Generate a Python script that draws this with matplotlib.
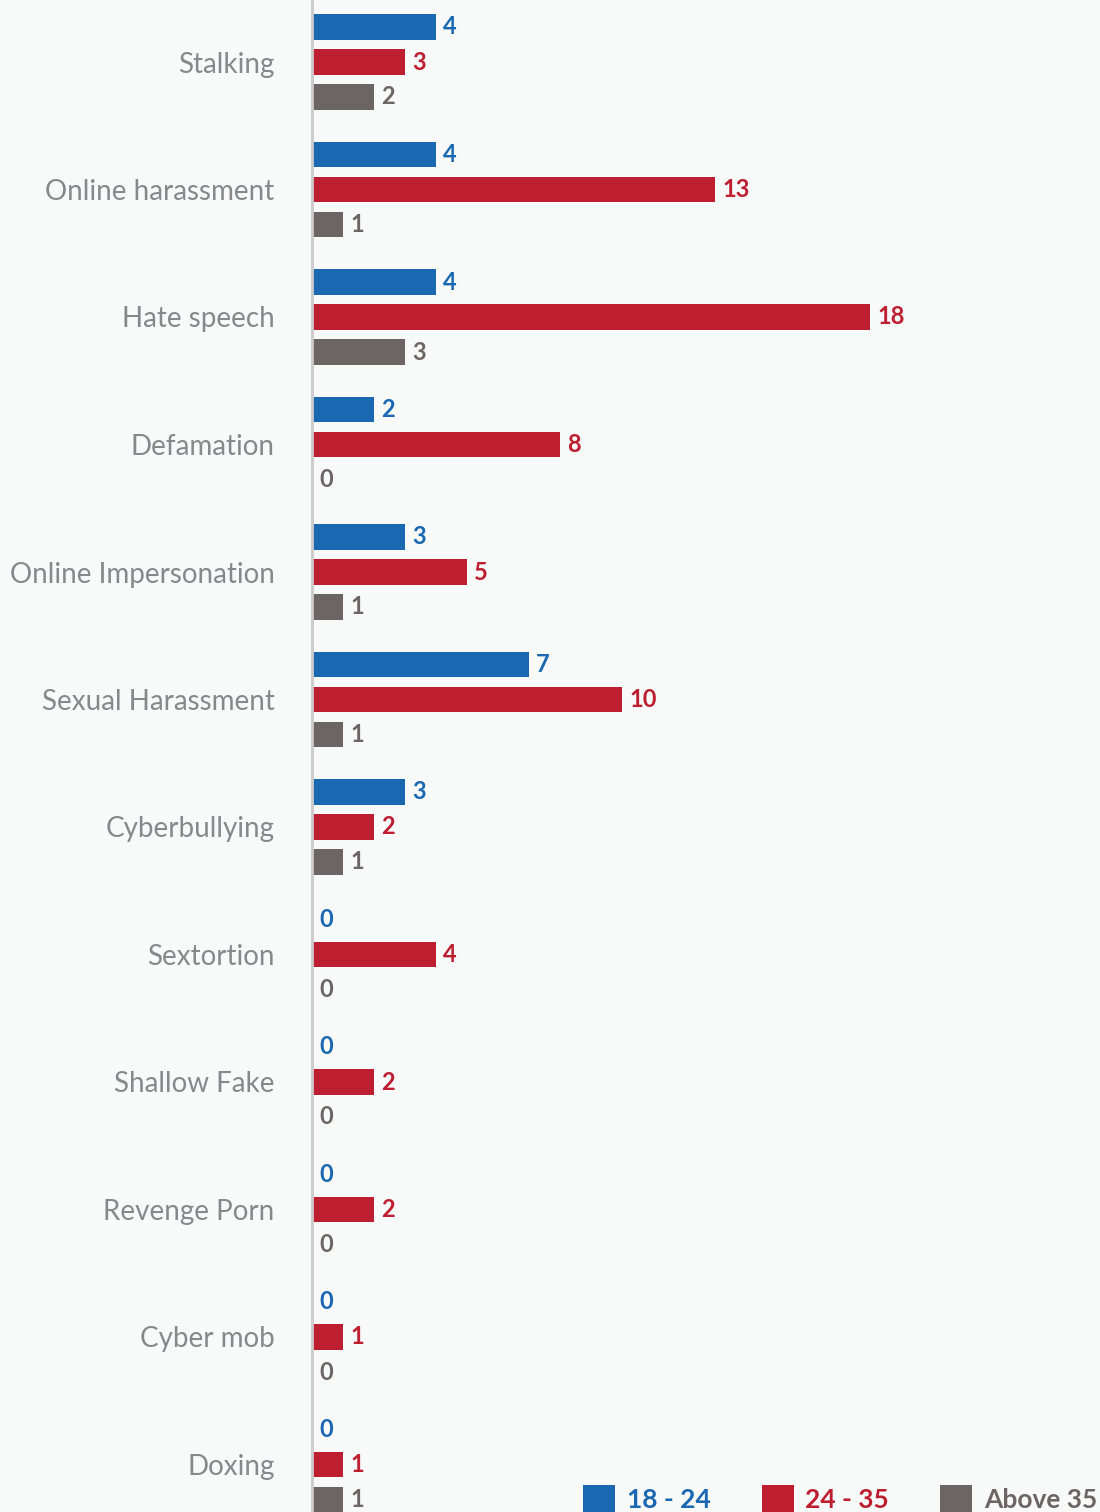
import matplotlib
matplotlib.use("Agg")
import matplotlib.pyplot as plt
import numpy as np
from matplotlib.patches import Patch

categories = ["Stalking", "Online harassment", "Hate speech", "Defamation",
              "Online Impersonation", "Sexual Harassment", "Cyberbullying",
              "Sextortion", "Shallow Fake", "Revenge Porn", "Cyber mob", "Doxing"]
series_names = ["18 - 24", "24 - 35", "Above 35"]
age_18_24 = [4, 4, 4, 2, 3, 7, 3, 0, 0, 0, 0, 0]
age_24_35 = [3, 13, 18, 8, 5, 10, 2, 4, 2, 2, 1, 1]
age_35_plus = [2, 1, 3, 0, 1, 1, 1, 0, 0, 0, 0, 1]

colors = ["#1a67b2", "#bd1f30", "#6d6563"]
bg = "#f8f9f9"

plt.rcParams["font.family"] = ["Lato", "DejaVu Sans"]

W, H = 1100, 1512
fig = plt.figure(figsize=(W / 100, H / 100), dpi=100, facecolor=bg)
left_px = 312
ax = fig.add_axes([left_px / W, 0, 1 - left_px / W, 1], facecolor=bg)

# scale: 31 px per count, groups 127.5 px apart
px_per_unit = 31.0
ax.set_xlim(0, (W - left_px) / px_per_unit)
first_center, step = 62.0, 127.5
ax.set_ylim((H - first_center) / step, -first_center / step)

y = np.arange(len(categories))
offset = 35.0 / step
bar_h = 25.5 / step
for k, vals in enumerate([age_18_24, age_24_35, age_35_plus]):
    yy = y + (k - 1) * offset
    ax.barh(yy, vals, height=bar_h, color=colors[k], edgecolor="none")
    for yi, v in zip(yy, vals):
        ax.text(v + 7 / px_per_unit, yi, str(v), va="center", ha="left",
                fontsize=17, fontweight="bold", color=colors[k])

ax.set_yticks(y)
ax.set_yticklabels(categories, fontsize=20, color="#88888a")
ax.tick_params(axis="y", length=0, pad=27)
ax.set_xticks([])
for s in ["top", "right", "bottom"]:
    ax.spines[s].set_visible(False)
ax.spines["left"].set_color("#cccaca")
ax.spines["left"].set_linewidth(2)

handles = [Patch(facecolor=c, edgecolor="none") for c in colors]
fig.legend(handles, series_names, loc="lower right", bbox_to_anchor=(1.019, -0.016),
           ncol=3, frameon=False, labelcolor=colors, handlelength=1.21,
           handleheight=1.21, handletextpad=0.45, columnspacing=1.93,
           prop={"size": 19, "weight": "bold"})

fig.savefig("out.png", dpi=100, facecolor=bg)
